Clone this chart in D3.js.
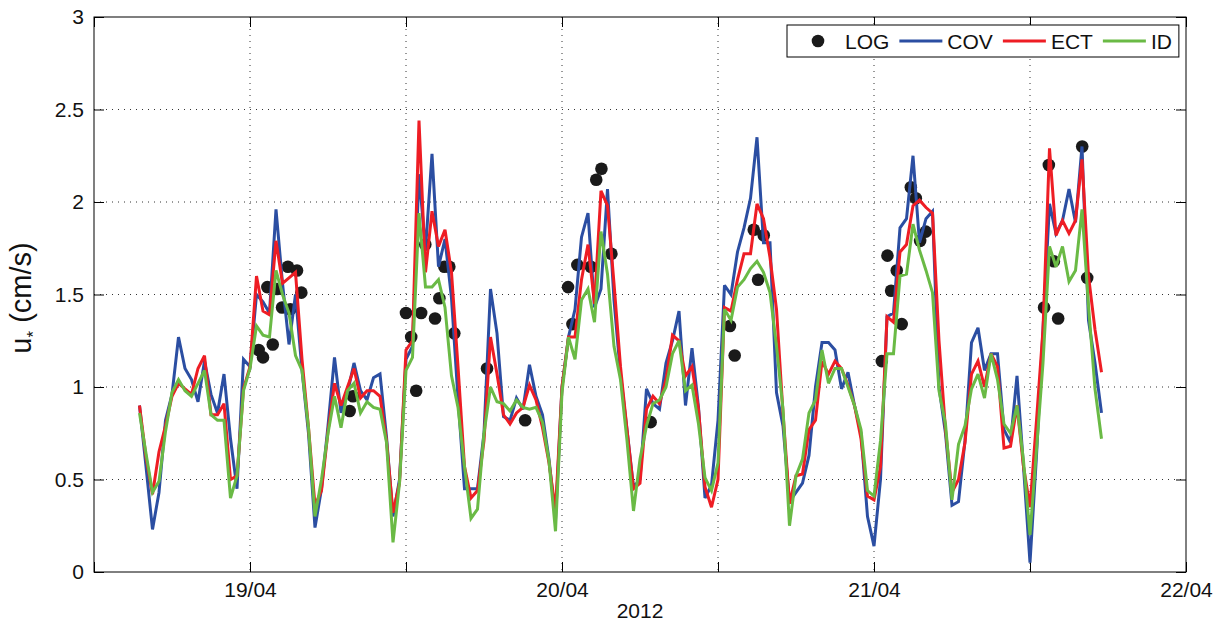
<!DOCTYPE html>
<html>
<head>
<meta charset="utf-8">
<script src="https://cdn.jsdelivr.net/npm/d3@7"></script>
<style>
  body { margin: 0; background: #fff; }
  svg { display: block; font-family: 'Liberation Sans', Arial, sans-serif; }
  .grid line { stroke: #333; stroke-width: 1; stroke-dasharray: 1,5; }
</style>
</head>
<body>
<div id="container"></div>
<script>
const width = 1226;
const height = 622;

// series: one value every 30 min, starting 18/04/2012 15:30
const seriesStart = '2012-04-18 15:30';
const stepMinutes = 30;

const cov = [
  0.90, 0.57, 0.23, 0.43, 0.82, 0.96, 1.27, 1.10, 1.04, 0.92,
  1.14, 0.96, 0.86, 1.07, 0.72, 0.45, 1.15, 1.11, 1.50, 1.46,
  1.40, 1.96, 1.56, 1.23, 1.50, 1.09, 0.75, 0.24, 0.45, 0.79,
  1.16, 0.86, 0.97, 1.13, 0.98, 0.93, 1.05, 1.07, 0.73, 0.30,
  0.50, 1.15, 1.22, 2.15, 1.74, 2.26, 1.65, 1.80, 1.48, 0.94,
  0.45, 0.45, 0.45, 0.75, 1.53, 1.29, 0.84, 0.82, 0.94, 0.88,
  1.12, 0.95, 0.85, 0.61, 0.28, 1.00, 1.27, 1.42, 1.81, 1.94,
  1.43, 1.53, 2.07, 1.47, 1.07, 0.77, 0.46, 0.50, 0.99, 0.91,
  0.88, 1.13, 1.25, 1.41, 0.90, 1.21, 0.89, 0.40, 0.47, 0.82,
  1.55, 1.50, 1.73, 1.86, 2.02, 2.35, 1.78, 1.78, 0.97, 0.79,
  0.38, 0.43, 0.48, 0.63, 1.00, 1.24, 1.24, 1.20, 0.99, 1.08,
  0.90, 0.75, 0.30, 0.14, 0.50, 1.38, 1.40, 1.86, 1.91, 2.25,
  1.78, 1.91, 1.95, 1.00, 0.75, 0.36, 0.38, 0.71, 1.24, 1.32,
  1.09, 1.18, 1.18, 0.77, 0.70, 1.06, 0.57, 0.05, 0.63, 1.31,
  1.99, 1.83, 1.90, 2.07, 1.89, 2.30, 1.36, 1.13, 0.86
];

const ect = [
  0.90, 0.62, 0.42, 0.65, 0.79, 0.95, 1.02, 0.99, 0.96, 1.10,
  1.17, 0.85, 0.85, 0.91, 0.50, 0.52, 0.99, 1.11, 1.60, 1.41,
  1.39, 1.79, 1.56, 1.59, 1.62, 1.15, 0.78, 0.36, 0.44, 0.76,
  1.02, 0.90, 1.00, 1.10, 0.94, 0.98, 0.98, 0.95, 0.71, 0.32,
  0.48, 1.20, 1.25, 2.44, 1.62, 1.95, 1.76, 1.85, 1.62, 1.11,
  0.57, 0.40, 0.44, 0.71, 1.27, 1.07, 0.85, 0.80, 0.86, 0.89,
  1.01, 0.93, 0.78, 0.59, 0.33, 1.00, 1.27, 1.27, 1.58, 1.77,
  1.45, 2.06, 1.98, 1.56, 1.11, 0.77, 0.45, 0.48, 0.88, 0.95,
  0.91, 1.04, 1.28, 1.25, 1.06, 1.11, 0.88, 0.46, 0.35, 0.50,
  1.43, 1.41, 1.58, 1.72, 1.72, 1.99, 1.91, 1.70, 1.42, 0.86,
  0.37, 0.52, 0.53, 0.77, 0.82, 1.14, 1.07, 1.14, 1.10, 1.01,
  0.90, 0.72, 0.41, 0.39, 0.57, 1.38, 1.35, 1.73, 1.77, 1.98,
  2.01, 1.97, 1.94, 1.25, 0.77, 0.43, 0.50, 0.70, 1.07, 1.14,
  1.00, 1.18, 1.11, 0.67, 0.68, 0.90, 0.57, 0.35, 0.82, 1.31,
  2.29, 1.82, 1.90, 1.83, 1.90, 2.23, 1.60, 1.31, 1.08
];

const id = [
  0.86, 0.64, 0.43, 0.49, 0.76, 0.97, 1.04, 0.98, 0.95, 1.02,
  1.09, 0.85, 0.82, 0.82, 0.40, 0.52, 0.98, 1.10, 1.33, 1.28,
  1.27, 1.63, 1.50, 1.40, 1.17, 1.09, 0.78, 0.30, 0.50, 0.75,
  0.95, 0.78, 0.98, 1.02, 0.86, 0.92, 0.89, 0.88, 0.70, 0.16,
  0.48, 1.09, 1.16, 1.94, 1.54, 1.54, 1.58, 1.43, 1.06, 0.89,
  0.57, 0.29, 0.34, 0.75, 1.00, 0.92, 0.91, 0.87, 0.93, 0.89,
  0.88, 0.89, 0.81, 0.60, 0.22, 0.97, 1.27, 1.15, 1.47, 1.53,
  1.35, 1.84, 1.61, 1.22, 1.04, 0.71, 0.33, 0.61, 0.79, 0.91,
  0.93, 1.00, 1.18, 1.25, 0.98, 1.01, 0.80, 0.51, 0.44, 0.59,
  1.42, 1.36, 1.54, 1.58, 1.64, 1.68, 1.62, 1.51, 1.22, 0.88,
  0.25, 0.52, 0.61, 0.86, 0.93, 1.20, 1.02, 1.10, 1.10, 1.00,
  0.90, 0.77, 0.44, 0.41, 0.71, 1.18, 1.18, 1.60, 1.61, 1.88,
  1.74, 1.63, 1.51, 0.98, 0.80, 0.39, 0.69, 0.79, 0.99, 1.07,
  0.94, 1.18, 1.04, 0.80, 0.75, 0.90, 0.60, 0.20, 0.66, 1.13,
  1.76, 1.65, 1.76, 1.57, 1.63, 1.96, 1.44, 0.99, 0.72
];

// LOG profile estimates (irregular times)
const logTimes = [
  '2012-04-19 00:40', '2012-04-19 01:00', '2012-04-19 01:20', '2012-04-19 01:45',
  '2012-04-19 02:05', '2012-04-19 02:28', '2012-04-19 02:55', '2012-04-19 03:06',
  '2012-04-19 03:37', '2012-04-19 03:57', '2012-04-19 07:40', '2012-04-19 07:55',
  '2012-04-19 12:00', '2012-04-19 12:24', '2012-04-19 12:47', '2012-04-19 13:10',
  '2012-04-19 13:29', '2012-04-19 14:14', '2012-04-19 14:34', '2012-04-19 14:57',
  '2012-04-19 15:20', '2012-04-19 15:43', '2012-04-19 18:14', '2012-04-19 21:10',
  '2012-04-20 00:28', '2012-04-20 00:48', '2012-04-20 01:11', '2012-04-20 02:13',
  '2012-04-20 02:38', '2012-04-20 03:02', '2012-04-20 03:48', '2012-04-20 06:49',
  '2012-04-20 12:55', '2012-04-20 13:17', '2012-04-20 14:45', '2012-04-20 15:05',
  '2012-04-20 15:31', '2012-04-21 00:36', '2012-04-21 01:02', '2012-04-21 01:19',
  '2012-04-21 01:45', '2012-04-21 02:08', '2012-04-21 02:50', '2012-04-21 03:13',
  '2012-04-21 03:33', '2012-04-21 03:59', '2012-04-21 13:05', '2012-04-21 13:27',
  '2012-04-21 13:50', '2012-04-21 14:10', '2012-04-21 16:01', '2012-04-21 16:24'
];
const logValues = [
  1.20, 1.16, 1.54, 1.23, 1.53, 1.43, 1.65, 1.42, 1.63, 1.51, 0.87, 0.95,
  1.40, 1.27, 0.98, 1.40, 1.77, 1.37, 1.48, 1.65, 1.65, 1.29, 1.10, 0.82,
  1.54, 1.34, 1.66, 1.65, 2.12, 2.18, 1.72, 0.81,
  1.33, 1.17, 1.85, 1.58, 1.82,
  1.14, 1.71, 1.52, 1.63, 1.34, 2.08, 2.02, 1.79, 1.84,
  1.43, 2.20, 1.68, 1.37, 2.30, 1.59
];

const xDomain = ['2012-04-18 12:00', '2012-04-22 00:00'];
const yTicks = [0, 0.5, 1, 1.5, 2, 2.5, 3];
const seriesNames = ['COV', 'ECT', 'ID'];
const seriesColors = ['#2b4ea2', '#ee1d24', '#6aba45'];

const parse = d3.timeParse('%Y-%m-%d %H:%M');

const plot = {left: 94, right: 1186, top: 17, bottom: 572};

function render() {
  const svg = d3.select('#container').append('svg')
    .attr('width', width)
    .attr('height', height)
    .attr('viewBox', [0, 0, width, height]);

  const x = d3.scaleTime()
    .domain(xDomain.map(parse))
    .range([plot.left, plot.right]);
  const y = d3.scaleLinear()
    .domain([0, 3])
    .range([plot.bottom, plot.top]);

  const xTicks = d3.timeHour.every(12).range(x.domain()[0], d3.timeMinute.offset(x.domain()[1], 1));
  const fmtDay = d3.timeFormat('%d/%m');

  // dotted grid
  const grid = svg.append('g').attr('class', 'grid');
  grid.selectAll('.vg')
    .data(xTicks.slice(1, -1))
    .join('line')
    .attr('x1', d => x(d)).attr('x2', d => x(d))
    .attr('y1', plot.top).attr('y2', plot.bottom);
  grid.selectAll('.hg')
    .data(yTicks.slice(1, -1))
    .enter().append('line')
    .attr('x1', plot.left).attr('x2', plot.right)
    .attr('y1', d => y(d)).attr('y2', d => y(d));

  // axes, MATLAB style ticks pointing inward on all four sides
  const tickLen = 10;
  const xAxis = svg.append('g')
    .attr('transform', `translate(0,${plot.bottom})`)
    .call(d3.axisBottom(x).tickValues(xTicks).tickSizeInner(-tickLen).tickSizeOuter(0).tickPadding(10)
      .tickFormat(d => d.getHours() === 0 ? fmtDay(d) : ''));
  const xTop = svg.append('g')
    .attr('transform', `translate(0,${plot.top})`)
    .call(d3.axisTop(x).tickValues(xTicks).tickSizeInner(-tickLen).tickSizeOuter(0).tickFormat(''));
  const yAxis = svg.append('g')
    .attr('transform', `translate(${plot.left},0)`)
    .call(d3.axisLeft(y).tickValues(yTicks).tickSizeInner(-tickLen).tickSizeOuter(0).tickPadding(10)
      .tickFormat(d3.format('')));
  const yRight = svg.append('g')
    .attr('transform', `translate(${plot.right},0)`)
    .call(d3.axisRight(y).tickValues(yTicks).tickSizeInner(-tickLen).tickSizeOuter(0).tickFormat(''));

  [xAxis, xTop, yAxis, yRight].forEach(g => {
    g.select('.domain').remove();
    g.selectAll('.tick line').attr('stroke', '#000').attr('stroke-width', 1);
    g.selectAll('.tick text')
      .attr('font-family', "'Liberation Sans', Arial, sans-serif")
      .attr('font-size', 21)
      .attr('fill', '#111');
  });

  svg.append('rect')
    .attr('x', plot.left).attr('y', plot.top)
    .attr('width', plot.right - plot.left)
    .attr('height', plot.bottom - plot.top)
    .attr('fill', 'none')
    .attr('stroke', '#000')
    .attr('stroke-width', 1);

  // axis labels
  svg.append('text')
    .attr('x', (plot.left + plot.right) / 2)
    .attr('y', 618)
    .attr('text-anchor', 'middle')
    .attr('font-size', 21)
    .attr('fill', '#111')
    .text('2012');

  const ylab = svg.append('text')
    .attr('transform', `translate(31,298) rotate(-90)`)
    .attr('text-anchor', 'middle')
    .attr('font-size', 29)
    .attr('fill', '#111');
  ylab.append('tspan').text('u');
  ylab.append('tspan').attr('font-size', 17).attr('dy', 8).text('*');
  ylab.append('tspan').attr('dy', -8).text(' (cm/s)');

  // LOG points
  const logData = logTimes.map((t, i) => ({t: parse(t), v: logValues[i]}));
  svg.append('g')
    .selectAll('circle')
    .data(logData)
    .join('circle')
    .attr('cx', d => x(d.t))
    .attr('cy', d => y(d.v))
    .attr('r', 6.3)
    .attr('fill', '#1a1a1a');

  // model series
  const t0 = parse(seriesStart);
  const series = [cov, ect, id].map((vals, k) => ({
    name: seriesNames[k],
    color: seriesColors[k],
    values: vals.map((v, i) => ({t: d3.timeMinute.offset(t0, i * stepMinutes), v}))
  }));

  const line = d3.line()
    .x(d => x(d.t))
    .y(d => y(d.v));

  svg.append('g')
    .selectAll('path')
    .data(series)
    .join('path')
    .attr('d', d => line(d.values))
    .attr('fill', 'none')
    .attr('stroke', d => d.color)
    .attr('stroke-width', 3)
    .attr('stroke-linejoin', 'miter')
    .attr('stroke-miterlimit', 3);

  renderLegend(svg, series);
}

function renderLegend(svg, series) {
  const box = {x: 787, y: 25, h: 32};
  const lg = svg.append('g');
  const rect = lg.append('rect')
    .attr('x', box.x).attr('y', box.y)
    .attr('height', box.h)
    .attr('fill', '#fff')
    .attr('stroke', '#000')
    .attr('stroke-width', 1);

  const items = [{name: 'LOG', type: 'dot'}].concat(series.map(s => ({name: s.name, type: 'line', color: s.color})));
  const cy = box.y + box.h / 2;
  let cx = box.x + 10;
  items.forEach(it => {
    if (it.type === 'dot') {
      lg.append('circle').attr('cx', cx + 21).attr('cy', cy).attr('r', 6.3).attr('fill', '#1a1a1a');
    } else {
      lg.append('line')
        .attr('x1', cx).attr('x2', cx + 43)
        .attr('y1', cy).attr('y2', cy)
        .attr('stroke', it.color)
        .attr('stroke-width', 3);
    }
    const txt = lg.append('text')
      .attr('x', cx + 48)
      .attr('y', cy + 7.5)
      .attr('font-size', 21)
      .attr('fill', '#111')
      .text(it.name);
    cx += 48 + txt.node().getComputedTextLength() + 10;
  });
  rect.attr('width', cx - 3 - box.x);
}

window.addEventListener('load', render);
</script>
</body>
</html>
